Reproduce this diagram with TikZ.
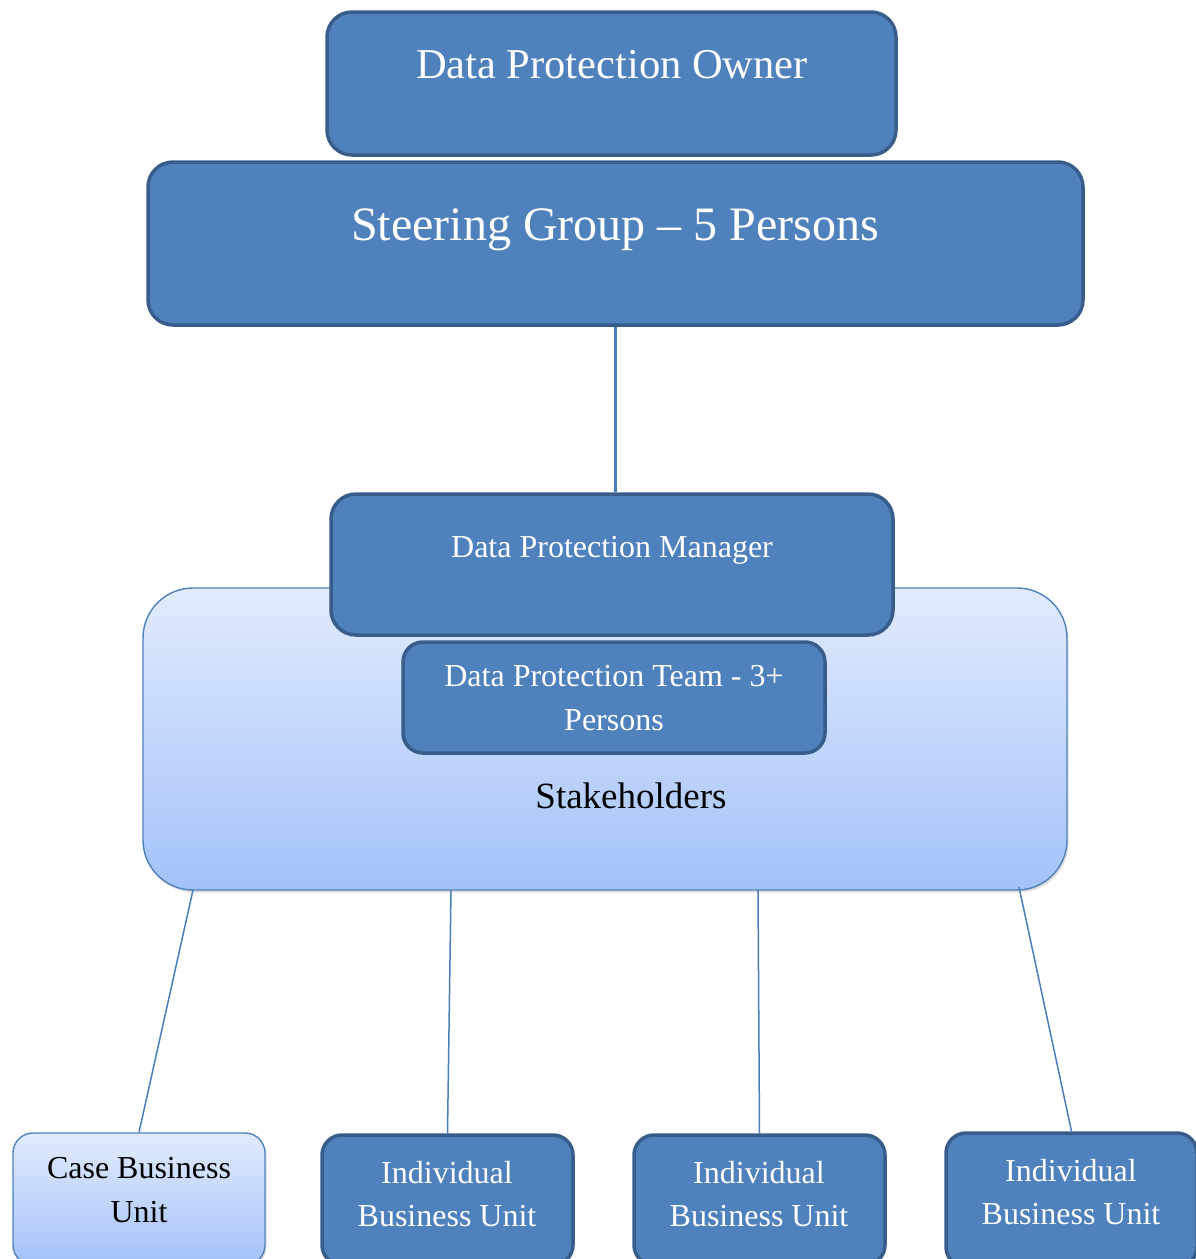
\documentclass[tikz,border=0pt]{standalone}
\usepackage{fontspec}
\setmainfont{Liberation Serif}
\usetikzlibrary{shadows}
\definecolor{boxfill}{HTML}{4F81BD}
\definecolor{boxline}{HTML}{385D8A}
\definecolor{conn}{HTML}{4A7EBB}
\definecolor{lighttop}{HTML}{E1EBFD}
\definecolor{lightbot}{HTML}{A3C2F9}
\begin{document}
\begin{tikzpicture}[x=1pt,y=-1pt,
  darkbox/.style={draw=boxline, fill=boxfill, line width=3.5pt, rounded corners=#1, inner sep=0pt},
  lightbox/.style={draw=boxfill, line width=1.4pt, top color=lighttop, bottom color=lightbot, rounded corners=#1, inner sep=0pt,
    drop shadow={opacity=0.25, shadow xshift=1.5pt, shadow yshift=-2.5pt}},
  wtext/.style={text=white, anchor=base, align=center, inner sep=0pt},
  btext/.style={text=black, anchor=base, align=center, inner sep=0pt},
  thickconn/.style={draw=conn, line width=2.5pt},
  thinconn/.style={draw=conn, line width=1.5pt}]
\useasboundingbox (0,0) rectangle (1196,1259);
\fill[white] (0,0) rectangle (1196,1259);
\clip (0,0) rectangle (1196,1259);

% big stakeholders box
\node[lightbox=50pt, minimum width=924pt, minimum height=302pt] (stake) at (605,739) {};
\node[btext, font=\fontsize{37}{44}\selectfont] (staketxt) at (631,808) {Stakeholders};

% top boxes
\node[darkbox=25pt, minimum width=935pt, minimum height=163pt] (steer) at (615.5,243.5) {};
\node[darkbox=25pt, minimum width=569pt, minimum height=143pt] (owner) at (611.5,83.5) {};
\node[wtext, font=\fontsize{42.5}{50}\selectfont] (ownertxt) at (612,78) {Data Protection Owner};
\node[wtext, font=\fontsize{48}{56}\selectfont] (steertxt) at (615,240) {Steering Group – 5 Persons};

% manager and team
\node[darkbox=25pt, minimum width=562pt, minimum height=141pt] (mgr) at (612,564.5) {};
\node[wtext, font=\fontsize{32}{44}\selectfont] (mgrtxt) at (612,557) {Data Protection Manager};
\node[darkbox=20pt, minimum width=422pt, minimum height=111pt] (team) at (614,697.5) {};
\node[wtext, font=\fontsize{32}{44}\selectfont] (teamtxt) at (614,730) {Data Protection Team - 3+\\Persons};

% bottom boxes
\node[lightbox=20pt, minimum width=252pt, minimum height=132pt] (case) at (139,1199) {};
\node[btext, font=\fontsize{32}{44}\selectfont] (casetxt) at (139,1222) {Case Business\\Unit};
\node[darkbox=20pt, minimum width=251pt, minimum height=130pt] (ind1) at (447.5,1200) {};
\node[wtext, font=\fontsize{32}{43}\selectfont] (ind1txt) at (447,1226) {Individual\\Business Unit};
\node[darkbox=20pt, minimum width=251pt, minimum height=130pt] (ind2) at (759.5,1200) {};
\node[wtext, font=\fontsize{32}{43}\selectfont] (ind2txt) at (759,1226) {Individual\\Business Unit};
\node[darkbox=20pt, minimum width=251pt, minimum height=134pt] (ind3) at (1071.5,1200) {};
\node[wtext, font=\fontsize{32}{43}\selectfont] (ind3txt) at (1071,1224) {Individual\\Business Unit};

% connectors
\draw[thickconn] (steer.south) -- (steer.south |- mgr.north);
\coordinate (s1) at (193,890);
\coordinate (s2) at (451,890);
\coordinate (s3) at (758,890);
\coordinate (s4) at (1019,887);
\draw[thinconn] (s1) -- (case.north);
\draw[thinconn] (s2) -- (ind1.north);
\draw[thinconn] (s3) -- (ind2.north);
\draw[thinconn] (s4) -- (ind3.north);
\end{tikzpicture}
\end{document}
